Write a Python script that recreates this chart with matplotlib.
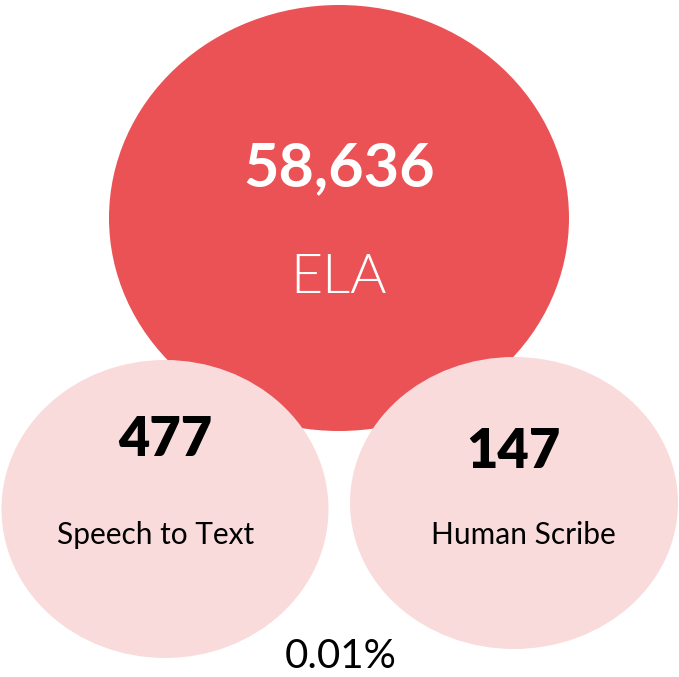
import matplotlib.pyplot as plt
from matplotlib.patches import Ellipse

# data
labels = ["ELA", "Speech to Text", "Human Scribe"]
values = [58636, 477, 147]
share = "0.01%"

red = "#EB5255"
pink = "#F9DBDC"

fig = plt.figure(figsize=(6.79, 6.77), dpi=100)
ax = fig.add_axes([0, 0, 1, 1])
ax.set_xlim(0, 679)
ax.set_ylim(677, 0)
ax.axis('off')

# bubble layout in pixel units: (cx, cy, width, height)
layout = [(339, 218, 460, 426), (165, 509, 327, 298), (514, 503, 328, 292)]
fills = [red, pink, pink]

for (cx, cy, w, h), c in zip(layout, fills):
    ax.add_patch(Ellipse((cx, cy), w, h, facecolor=c, edgecolor='none'))

# big bubble
ax.text(339, 168, f"{values[0]:,}", ha='center', va='center', color='white',
        fontsize=44, fontweight='bold', family='Lato')
ax.text(339, 278, labels[0], ha='center', va='center', color='white',
        fontsize=40, fontweight=300, family='Lato')

# small bubbles
ax.text(165, 440, f"{values[1]:,}", ha='center', va='center', color='black',
        fontsize=39, fontweight='heavy', family='Lato')
ax.text(156, 535, labels[1], ha='center', va='center', color='black',
        fontsize=21.5, family='Lato')
ax.text(513, 452, f"{values[2]:,}", ha='center', va='center', color='black',
        fontsize=39, fontweight='heavy', family='Lato')
ax.text(523, 535, labels[2], ha='center', va='center', color='black',
        fontsize=21.5, family='Lato')

ax.text(341, 657, share, ha='center', va='center', color='black',
        fontsize=29, family='Lato')

fig.savefig("out.png", dpi=100)
